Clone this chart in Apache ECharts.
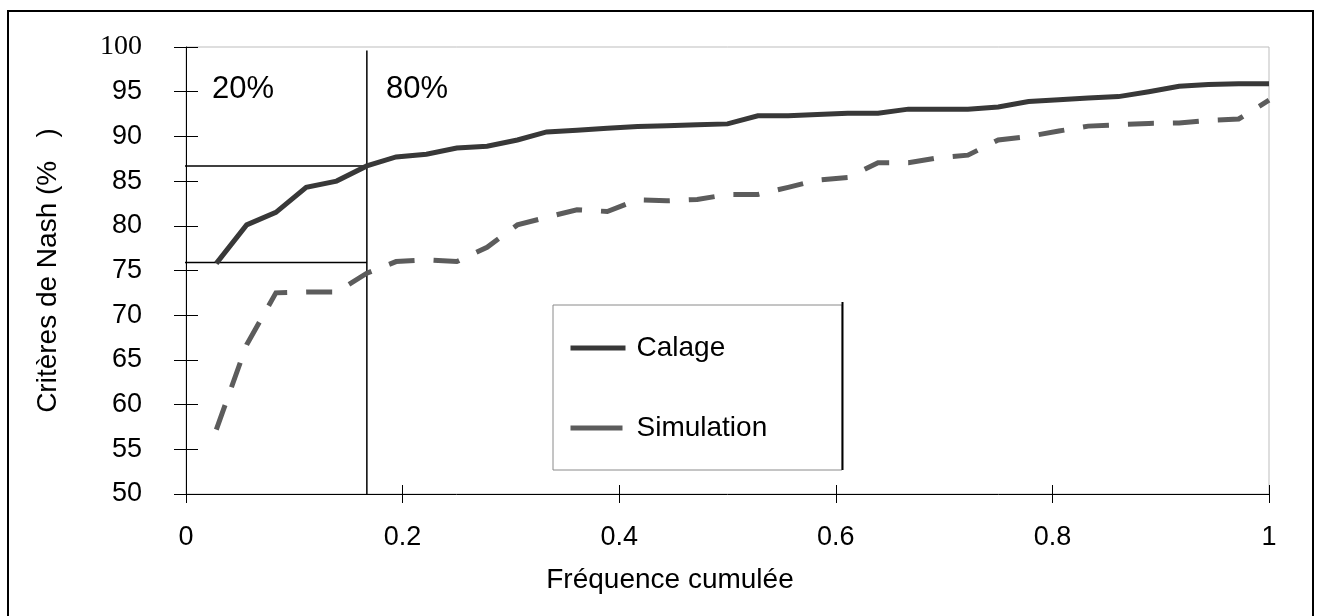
<!DOCTYPE html>
<html>
<head>
<meta charset="utf-8">
<script src="https://cdn.jsdelivr.net/npm/echarts@6/dist/echarts.min.js"></script>
<style>
html,body{margin:0;padding:0;background:#fff;}
#c{width:1319px;height:616px;}
</style>
</head>
<body>
<div id="c"></div>
<script>
// ---- data ----
const freq = [0.028, 0.056, 0.083, 0.111, 0.139, 0.167, 0.194, 0.222, 0.25, 0.278, 0.306, 0.333,
              0.361, 0.389, 0.417, 0.444, 0.472, 0.5, 0.528, 0.556, 0.583, 0.611, 0.639, 0.667,
              0.694, 0.722, 0.75, 0.778, 0.806, 0.833, 0.861, 0.889, 0.917, 0.944, 0.972, 1.0];
const calage = [75.8, 80.1, 81.5, 84.3, 85.0, 86.7, 87.7, 88.0, 88.7, 88.9, 89.6, 90.5,
                90.7, 90.9, 91.1, 91.2, 91.3, 91.4, 92.3, 92.3, 92.45, 92.6, 92.6, 93.05,
                93.05, 93.05, 93.3, 93.9, 94.1, 94.3, 94.45, 95.0, 95.6, 95.8, 95.9, 95.9];
const simulation = [57.2, 66.7, 72.5, 72.6, 72.6, 74.7, 76.0, 76.2, 76.0, 77.6, 80.1, 80.95,
                    81.8, 81.6, 82.9, 82.8, 82.95, 83.5, 83.5, 84.3, 85.1, 85.4, 87.05, 87.05,
                    87.6, 87.9, 89.6, 90.0, 90.6, 91.15, 91.3, 91.45, 91.5, 91.8, 91.95, 94.05];
const seriesNames = ['Calage', 'Simulation'];
const quantileX = 0.167;          // 20 % / 80 % split
const quantileLevels = [86.7, 75.9];
const lineLeftX = -0.029;
const yTicks = {min: 50, max: 100, interval: 5};
const xTicks = {min: 0, max: 1, interval: 0.2};
const regionLabels = ['20%', '80%'];
const yTitle = 'Critères de Nash (%   )';
const xTitle = 'Fréquence cumulée';

const SANS = 'Liberation Sans, Arial, sans-serif';
const SERIF = 'Liberation Serif, Times New Roman, serif';
const DASH = [26, 19];

const chart = echarts.init(document.getElementById('c'), null, {renderer: 'canvas'});

function pairs(xs, ys) { return xs.map((x, i) => [x, ys[i]]); }

const refSeries = [];
quantileLevels.forEach(v => {
  refSeries.push({
    type: 'line', data: [[lineLeftX, v], [quantileX, v]], symbol: 'none', clip: false,
    lineStyle: {color: '#000', width: 1.5}, silent: true, z: 3
  });
});
refSeries.push({
  type: 'line', data: [[quantileX, 99.6], [quantileX, yTicks.min]], symbol: 'none', clip: false,
  lineStyle: {color: '#000', width: 1.5}, silent: true, z: 3
});

const option = {
  animation: false,
  backgroundColor: '#fff',
  grid: {left: 186, right: 50, top: 47, bottom: 122, show: true, borderColor: '#bdbdbd', borderWidth: 1, backgroundColor: 'transparent'},
  legend: {
    data: [
      {name: seriesNames[0], lineStyle: {type: 'solid', width: 5, color: '#383838', cap: 'butt'}},
      {name: seriesNames[1], lineStyle: {type: [52, 38], width: 5, color: '#5c5c5c', cap: 'butt'}}
    ],
    orient: 'vertical', left: 568, top: 333, padding: 0,
    itemWidth: 55, itemHeight: 14, itemGap: 50,
    itemStyle: {opacity: 0},
    textStyle: {fontFamily: SANS, fontSize: 28, color: '#000', lineHeight: 30, padding: [0, 0, 0, 6]},
    selectedMode: false
  },
  xAxis: [{
    type: 'value', min: xTicks.min, max: xTicks.max, interval: xTicks.interval,
    name: xTitle, nameLocation: 'middle', nameGap: 72,
    nameTextStyle: {fontFamily: SANS, fontSize: 28, color: '#000', padding: [0, 115, 0, 0]},
    axisLine: {show: true, onZero: false, lineStyle: {color: '#000', width: 1}},
    axisTick: {show: true, inside: false, length: 9, lineStyle: {color: '#000', width: 1}},
    axisLabel: {fontFamily: SANS, fontSize: 27, color: '#000', margin: 30},
    splitLine: {show: false}
  }, {
    type: 'value', position: 'bottom', min: xTicks.min, max: xTicks.max, interval: xTicks.interval,
    axisLine: {show: false}, axisLabel: {show: false}, splitLine: {show: false},
    axisTick: {show: true, inside: true, length: 9, lineStyle: {color: '#000', width: 1}}
  }],
  yAxis: [{
    type: 'value', min: yTicks.min, max: yTicks.max, interval: yTicks.interval,
    name: yTitle, nameLocation: 'middle', nameGap: 124,
    nameTextStyle: {fontFamily: SANS, fontSize: 28, color: '#000'},
    axisLine: {show: true, onZero: false, lineStyle: {color: '#000', width: 1}},
    axisTick: {show: true, inside: false, length: 12, lineStyle: {color: '#000', width: 1}},
    axisLabel: {
      margin: 44, color: '#000',
      formatter: v => (v === yTicks.max ? '{s|' + v + '}' : '{n|' + v + '}'),
      rich: {
        s: {fontFamily: SERIF, fontSize: 28, color: '#000'},
        n: {fontFamily: SANS, fontSize: 27, color: '#000'}
      }
    },
    splitLine: {show: false}
  }, {
    type: 'value', position: 'left', min: yTicks.min, max: yTicks.max, interval: yTicks.interval,
    axisLine: {show: false}, axisLabel: {show: false}, splitLine: {show: false},
    axisTick: {show: true, inside: true, length: 12, lineStyle: {color: '#000', width: 1}}
  }],
  series: [
    {
      name: seriesNames[0], type: 'line', data: pairs(freq, calage), symbol: 'none', z: 5,
      lineStyle: {color: '#383838', width: 5, cap: 'butt', join: 'miter'},
      itemStyle: {color: '#383838'}
    },
    {
      name: seriesNames[1], type: 'line', data: pairs(freq, simulation), symbol: 'none', z: 5,
      lineStyle: {color: '#5c5c5c', width: 5, type: DASH, cap: 'butt', join: 'miter'},
      itemStyle: {color: '#5c5c5c'}
    }
  ].concat(refSeries),
  graphic: [
    {type: 'rect', shape: {x: 8, y: 11, width: 1305, height: 620}, style: {fill: 'none', stroke: '#000', lineWidth: 2}, z: 100},
    {type: 'rect', shape: {x: 553, y: 305, width: 289, height: 165}, style: {fill: 'none', stroke: '#8a8a8a', lineWidth: 1}, z: 1},
    {type: 'line', shape: {x1: 842.5, y1: 302, x2: 842.5, y2: 470}, style: {stroke: '#000', lineWidth: 2}, z: 2},
    {type: 'text', left: 212, top: 74, style: {text: regionLabels[0], fontFamily: SANS, fontSize: 31, fill: '#000'}},
    {type: 'text', left: 386, top: 74, style: {text: regionLabels[1], fontFamily: SANS, fontSize: 31, fill: '#000'}}
  ]
};
chart.setOption(option);
</script>
</body>
</html>
